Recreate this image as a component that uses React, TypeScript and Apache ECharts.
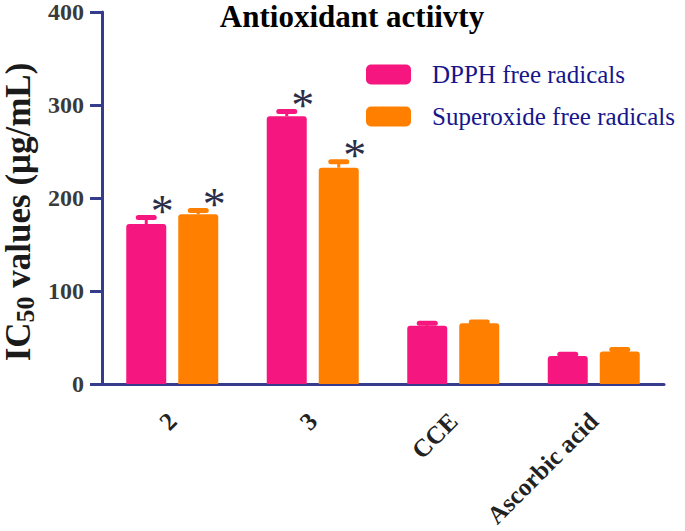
import React, { useEffect, useRef } from "react";
import * as echarts from "echarts";

const categories = ["2", "3", "CCE", "Ascorbic acid"];
const seriesNames = ["DPPH free radicals", "Superoxide free radicals"];
const dpphValues = [172, 288, 62.7, 30];
const dpphErrors = [7, 5, 2.5, 2];
const dpphSignificant = [1, 1, 0, 0];
const superoxideValues = [182.5, 232.6, 65.2, 35];
const superoxideErrors = [4, 6.5, 1.5, 2];
const superoxideSignificant = [1, 1, 0, 0];
const yMin = 0;
const yMax = 400;
const yInterval = 100;

const PINK = "#F5177F";
const ORANGE = "#FF8000";
const AXIS = "#363C8C";
const SERIF = "'Liberation Serif', 'Times New Roman', serif";

function errorSeries(values: number[], errors: number[], sig: number[], color: string, offset: number) {
  return {
    type: "custom",
    silent: true,
    z: 5,
    encode: { x: 0, y: 1 },
    data: values.map((v, i) => [i, v, errors[i], sig[i]]),
    renderItem: (params: any, api: any) => {
      const idx = api.value(0);
      const v = api.value(1);
      const e = api.value(2);
      const s = api.value(3);
      const base = api.coord([idx, v]);
      const tip = api.coord([idx, v + e]);
      const x = base[0] + offset;
      const children: any[] = [
        {
          type: "line",
          shape: { x1: x, y1: base[1], x2: x, y2: tip[1] },
          style: { stroke: color, lineWidth: 3 },
        },
        {
          type: "line",
          shape: { x1: x - 8, y1: tip[1], x2: x + 8, y2: tip[1] },
          style: { stroke: color, lineWidth: 5, lineCap: "round" },
        },
      ];
      if (s) {
        children.push({
          type: "text",
          x: x + 16,
          y: tip[1] - 6,
          style: {
            text: "*",
            fontFamily: SERIF,
            fontSize: 46,
            fill: "#2B2E48",
            align: "center",
            verticalAlign: "middle",
          },
        });
      }
      return { type: "group", children };
    },
  };
}

export default function App() {
  const ref = useRef<HTMLDivElement>(null);
  useEffect(() => {
    if (!ref.current) return;
    const chart = echarts.init(ref.current, undefined, { renderer: "svg" });
    chart.setOption({
      animation: false,
      backgroundColor: "#ffffff",
      grid: { left: 102, right: 21, top: 12, bottom: 147, containLabel: false },
      legend: {
        orient: "vertical",
        left: 361,
        top: 57,
        itemWidth: 45,
        itemHeight: 20,
        itemGap: 17,
        icon: "roundRect",
        data: seriesNames,
        textStyle: {
          fontFamily: SERIF,
          fontSize: 25,
          lineHeight: 25,
          color: "#16168A",
          padding: [0, 0, 0, 16],
        },
      },
      graphic: [
        {
          type: "text",
          x: 352,
          y: 16,
          style: {
            text: "Antioxidant actiivty",
            fontFamily: SERIF,
            fontWeight: "bold",
            fontSize: 31,
            fill: "#000000",
            align: "center",
            verticalAlign: "middle",
          },
        },
        {
          type: "text",
          x: 18,
          y: 212,
          rotation: Math.PI / 2,
          style: {
            text: "{a|IC}{s|50}{a| values (μg/mL)}",
            align: "center",
            verticalAlign: "middle",
            rich: {
              a: { fontFamily: SERIF, fontWeight: "bold", fontSize: 35, lineHeight: 40, fill: "#1A1A1A" },
              s: { fontFamily: SERIF, fontWeight: "bold", fontSize: 26, lineHeight: 26, verticalAlign: "bottom", fill: "#1A1A1A" },
            },
          },
        },
      ],
      xAxis: {
        type: "category",
        data: categories,
        axisLine: { lineStyle: { color: AXIS, width: 3 } },
        axisTick: { alignWithLabel: true, length: 11, lineStyle: { color: AXIS, width: 3 } },
        axisLabel: {
          rotate: 45,
          margin: 33,
          fontFamily: SERIF,
          fontWeight: "bold",
          fontSize: 25,
          color: "#222222",
        },
      },
      yAxis: {
        type: "value",
        min: yMin,
        max: yMax,
        interval: yInterval,
        axisLine: { show: true, lineStyle: { color: AXIS, width: 3 } },
        axisTick: { show: true, length: 12, lineStyle: { color: AXIS, width: 3 } },
        splitLine: { show: false },
        axisLabel: {
          margin: 18,
          fontFamily: SERIF,
          fontWeight: "bold",
          fontSize: 24,
          color: "#3A3A3A",
        },
      },
      series: [
        {
          name: seriesNames[0],
          type: "bar",
          data: dpphValues,
          barWidth: 40,
          barGap: "30%",
          itemStyle: { color: PINK, borderRadius: [3, 3, 0, 0] },
        },
        {
          name: seriesNames[1],
          type: "bar",
          data: superoxideValues,
          barWidth: 40,
          barGap: "30%",
          itemStyle: { color: ORANGE, borderRadius: [3, 3, 0, 0] },
        },
        errorSeries(dpphValues, dpphErrors, dpphSignificant, PINK, -26),
        errorSeries(superoxideValues, superoxideErrors, superoxideSignificant, ORANGE, 26),
      ],
    });
    return () => chart.dispose();
  }, []);
  return (
    <div
      ref={ref}
      style={{ position: "absolute", left: 0, top: 0, width: 685, height: 531 }}
    />
  );
}
